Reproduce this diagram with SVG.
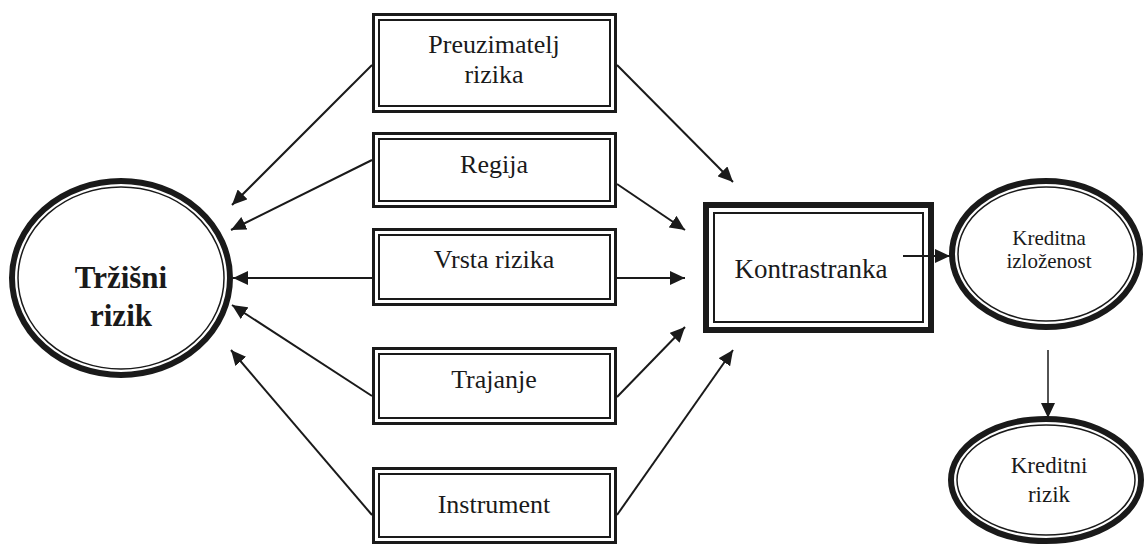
<svg xmlns="http://www.w3.org/2000/svg" width="1147" height="545" viewBox="0 0 1147 545">
<style>
  .outer { fill: none; stroke: #1a1a1a; stroke-width: 3; }
  .inner { fill: none; stroke: #1a1a1a; stroke-width: 2; }
  .thick { fill: none; stroke: #1a1a1a; stroke-width: 6; }
  .thin { fill: none; stroke: #1a1a1a; stroke-width: 1.5; }
  .lbl { font-family: "Liberation Serif", "Times New Roman", serif; font-size: 26px; fill: #1a1a1a; text-anchor: middle; }
  .sm { font-size: 21px; }
  .sm2 { font-size: 23px; }
  .big { font-size: 31px; font-weight: bold; }
  .conn line { stroke: #1a1a1a; stroke-width: 2; marker-end: url(#ah); }
</style>
<defs>
  <marker id="ah" markerUnits="userSpaceOnUse" markerWidth="16" markerHeight="14" refX="15" refY="7" orient="auto">
    <path d="M0,0 L15,7 L0,14 z" fill="#1a1a1a"/>
  </marker>
</defs>
<rect width="1147" height="545" fill="#ffffff"/>

<g id="trzisni-rizik">
  <ellipse class="thick" cx="121" cy="278" rx="109" ry="97"/>
  <ellipse class="thin" cx="121" cy="278" rx="103" ry="91"/>
  <text class="lbl big" x="121" y="288">Tržišni</text>
  <text class="lbl big" x="121" y="326">rizik</text>
</g>

<g id="preuzimatelj">
  <rect class="outer" x="373.5" y="14.5" width="242" height="97"/>
  <rect class="inner" x="379" y="20" width="231" height="86"/>
  <text class="lbl" x="494" y="53">Preuzimatelj</text>
  <text class="lbl" x="494" y="83">rizika</text>
</g>

<g id="regija">
  <rect class="outer" x="373.5" y="133.5" width="242" height="73"/>
  <rect class="inner" x="379" y="139" width="231" height="62"/>
  <text class="lbl" x="494" y="173">Regija</text>
</g>

<g id="vrsta-rizika">
  <rect class="outer" x="373.5" y="229.5" width="242" height="75"/>
  <rect class="inner" x="379" y="235" width="231" height="64"/>
  <text class="lbl" x="494" y="268">Vrsta rizika</text>
</g>

<g id="trajanje">
  <rect class="outer" x="373.5" y="348.5" width="242" height="75"/>
  <rect class="inner" x="379" y="354" width="231" height="64"/>
  <text class="lbl" x="494" y="388">Trajanje</text>
</g>

<g id="instrument">
  <rect class="outer" x="373.5" y="468.5" width="242" height="74"/>
  <rect class="inner" x="379" y="474" width="231" height="63"/>
  <text class="lbl" x="494" y="513">Instrument</text>
</g>

<g id="kontrastranka">
  <rect class="thick" x="706" y="205" width="225" height="125"/>
  <rect class="inner" x="714" y="213" width="209" height="109"/>
  <text class="lbl" x="811" y="278" style="font-size:27px">Kontrastranka</text>
</g>

<g id="kreditna-izlozenost">
  <ellipse class="thick" cx="1046" cy="254" rx="94" ry="73"/>
  <ellipse class="thin" cx="1046" cy="254" rx="88" ry="67"/>
  <text class="lbl sm" x="1049" y="245">Kreditna</text>
  <text class="lbl sm" x="1049" y="268">izloženost</text>
</g>

<g id="kreditni-rizik">
  <ellipse class="thick" cx="1046" cy="480" rx="95" ry="61"/>
  <ellipse class="thin" cx="1046" cy="480" rx="89" ry="55"/>
  <text class="lbl sm2" x="1049" y="473">Kreditni</text>
  <text class="lbl sm2" x="1049" y="502">rizik</text>
</g>

<g id="connectors" class="conn">
  <line x1="372" y1="65" x2="232" y2="205"/>
  <line x1="372" y1="160" x2="231" y2="230"/>
  <line x1="372" y1="278" x2="233" y2="278"/>
  <line x1="372" y1="396" x2="232" y2="305"/>
  <line x1="372" y1="515" x2="231" y2="350"/>
  <line x1="617" y1="65" x2="733" y2="182"/>
  <line x1="617" y1="184" x2="685" y2="230"/>
  <line x1="617" y1="278" x2="685" y2="278"/>
  <line x1="617" y1="397" x2="685" y2="327"/>
  <line x1="617" y1="515" x2="733" y2="350"/>
  <line x1="903" y1="256" x2="950" y2="256"/>
  <line x1="1048" y1="350" x2="1048" y2="418" style="stroke-width:1.5"/>
</g>
</svg>
